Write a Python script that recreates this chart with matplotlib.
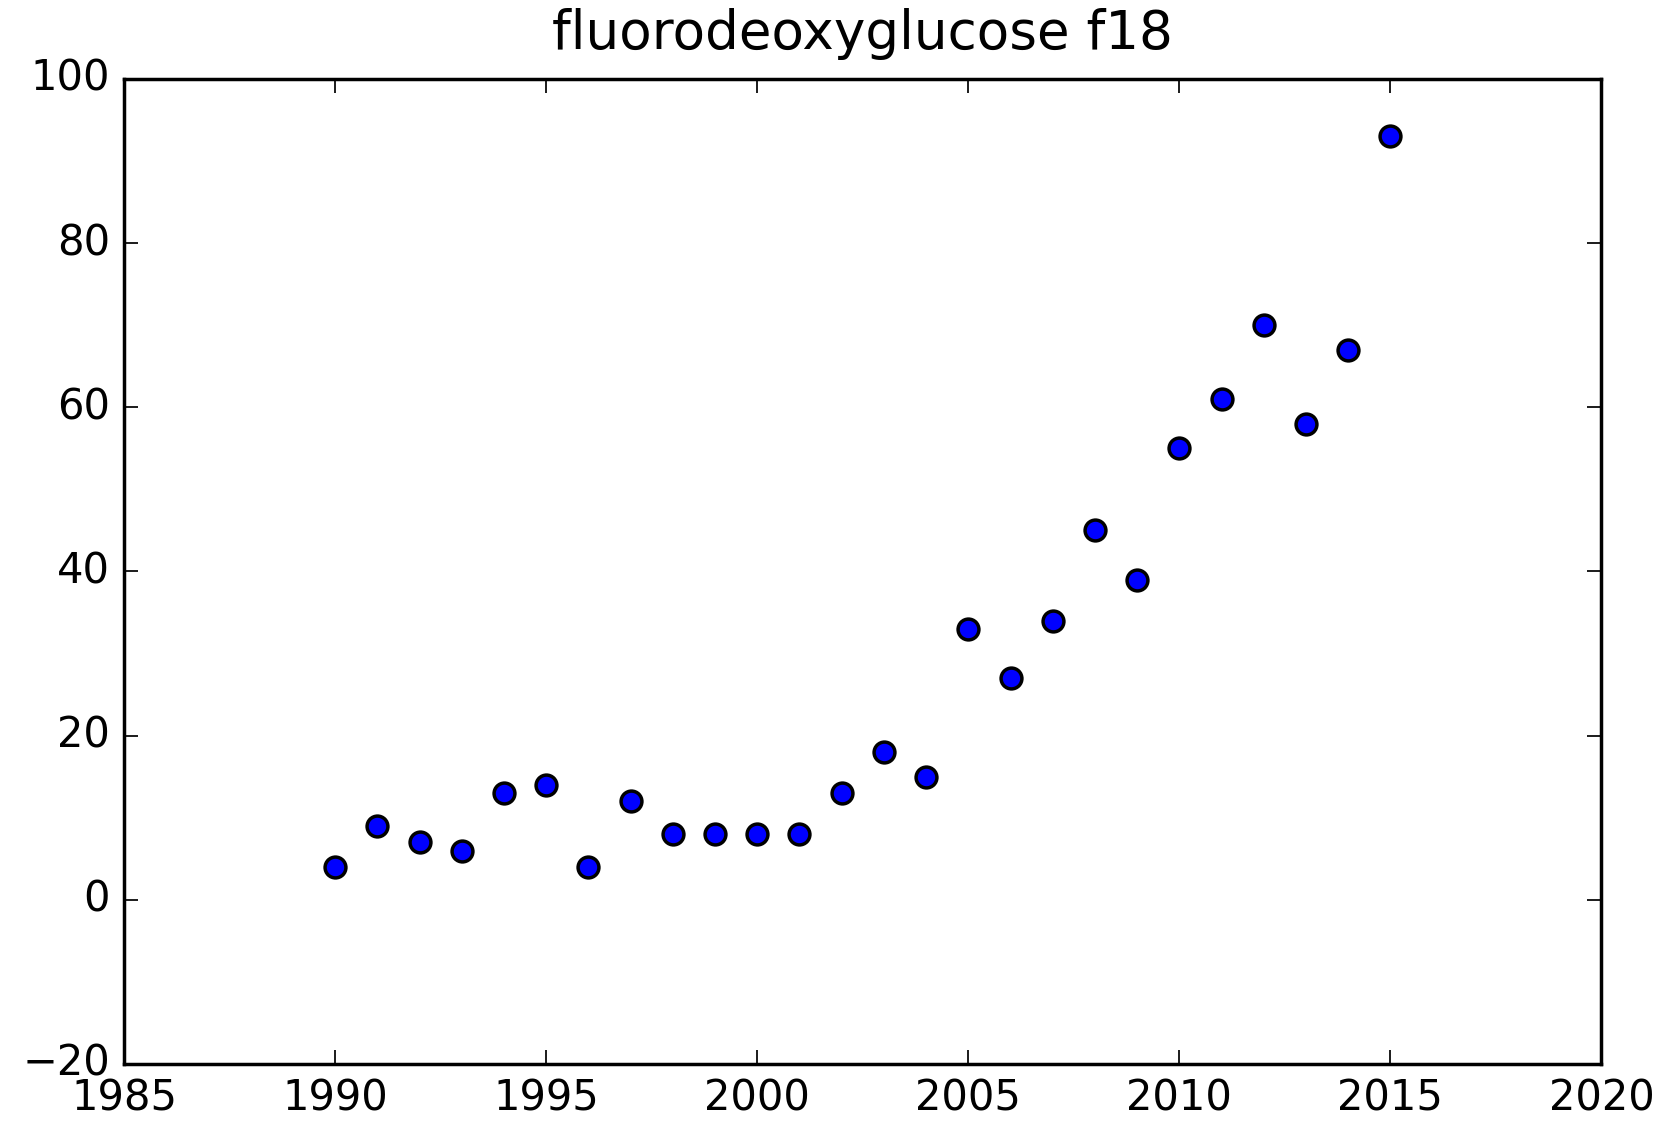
import numpy as np
import matplotlib
matplotlib.use("Agg")
import matplotlib.pyplot as plt

years = [1990, 1991, 1992, 1993, 1994, 1995, 1996, 1997, 1998, 1999, 2000, 2001, 2002,
         2003, 2004, 2005, 2006, 2007, 2008, 2009, 2010, 2011, 2012, 2013, 2014, 2015]
counts = [4, 9, 7, 6, 13, 14, 4, 12, 8, 8, 8, 8, 13,
          18, 15, 33, 27, 34, 45, 39, 55, 61, 70, 58, 67, 93]
title = "fluorodeoxyglucose f18"

plt.style.use("classic")
fig = plt.figure(figsize=(1663 / 250, 1122 / 250), dpi=250, facecolor="white")
ax = fig.add_axes([0.0746, 0.0517, 0.963 - 0.0746, 0.9296 - 0.0517])
ax.plot(years, counts, "o", color="blue", markersize=6, markeredgecolor="black", markeredgewidth=1)
ax.set_xlim(1985, 2020)
ax.set_ylim(-20, 100)
ax.set_xticks(np.arange(1985, 2021, 5))
ax.set_yticks(np.arange(-20, 101, 20))
ax.ticklabel_format(useOffset=False)
ax.set_title(title, fontsize=15.3, pad=8.5)
ax.tick_params(labelsize=12)

fig.savefig("out.png", dpi=250, facecolor="white")
